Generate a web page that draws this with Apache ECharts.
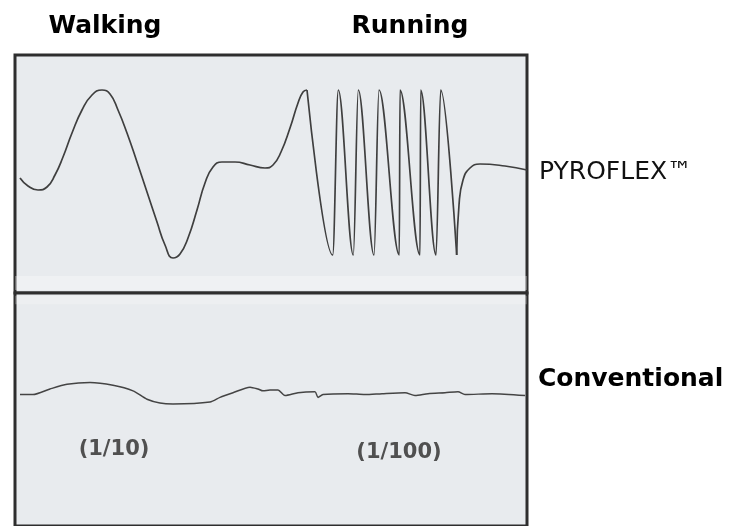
<!DOCTYPE html>
<html>
<head>
<meta charset="utf-8">
<script src="https://cdn.jsdelivr.net/npm/echarts@6/dist/echarts.min.js"></script>
<style>html,body{margin:0;padding:0;background:#fff;}#c{width:735px;height:526px;}</style>
</head>
<body>
<div id="c"></div>
<script>
// Time axis (arbitrary units) and signal amplitude
// PYROFLEX: walking segment (slow wave)
const pyroWalkTime   = [5, 13, 23, 32, 40, 48, 57, 67, 77, 87, 95, 103, 112, 122, 132, 142, 150, 158, 165, 173, 182, 190, 198, 207, 220, 235, 250, 258, 266, 275, 283, 288, 292];
const pyroWalkSignal = [-8, -16, -20, -17, -5, 13, 37, 60, 75, 80, 76, 60, 37, 8, -22, -52, -75, -88, -84, -68, -40, -13, 3, 8, 8, 5, 2, 5, 18, 42, 67, 78, 80];
// PYROFLEX: running segment (fast oscillation)
const pyroRunTime   = [292, 317.7, 323.3, 338.3, 343.3, 359, 364, 384.3, 385, 405, 405.7, 421, 425.7, 441.7];
const pyroRunSignal = [80, -85, 80, -85, 80, -85, 80, -85, 80, -85, 80, -85, 80, -85];
// PYROFLEX: settling tail
const pyroTailTime   = [441.7, 444, 448, 455, 465, 490, 512];
const pyroTailSignal = [-85, -35, -10, 2, 6, 4, 0];

// Conventional sensor response
const convTime   = [5, 18, 35, 52, 75, 98, 118, 132, 145, 158, 195, 205, 218, 235, 243, 248, 255, 263, 270, 283, 300, 303, 308, 333, 350, 367, 390, 400, 413, 430, 443, 450, 477, 510];
const convSignal = [0, 0, 6, 11, 13, 10, 4, -5, -9, -10, -8, -3, 2, 8, 6, 4, 5, 5, -1, 2, 3, -3, 0, 1, 0, 1, 2, -1, 1, 2, 3, 0, 1, -1];

const labelsTop = ["Walking", "Running"];
const labelsRight = ["PYROFLEX™", "Conventional"];
const scaleLabels = ["(1/10)", "(1/100)"];

const zip = (t, s) => t.map((v, i) => [v, s[i]]);

const chart = echarts.init(document.getElementById('c'), null, {renderer: 'canvas'});
const lineStyle = {color: '#3f3f3f', width: 1.7};
const bg = '#e8ebee';
const border = '#2e2e2e';

chart.setOption({
  animation: false,
  backgroundColor: '#fff',
  grid: [
    {left: 15, top: 55, width: 512, height: 238, show: true, backgroundColor: bg, borderColor: border, borderWidth: 3},
    {left: 15, top: 293, width: 512, height: 250, show: true, backgroundColor: bg, borderColor: border, borderWidth: 3}
  ],
  xAxis: [
    {type: 'value', gridIndex: 0, min: 0, max: 512, show: false},
    {type: 'value', gridIndex: 1, min: 0, max: 512, show: false}
  ],
  yAxis: [
    {type: 'value', gridIndex: 0, min: -123, max: 115, show: false},
    {type: 'value', gridIndex: 1, min: -141, max: 109, show: false}
  ],
  series: [
    {
      type: 'line', xAxisIndex: 0, yAxisIndex: 0, symbol: 'none', smooth: 0.5,
      lineStyle: lineStyle, data: zip(pyroWalkTime, pyroWalkSignal),
      markArea: {silent: true, itemStyle: {color: 'rgba(255,255,255,0.3)'}, data: [[{yAxis: -120}, {yAxis: -106}]]}
    },
    {
      type: 'line', xAxisIndex: 0, yAxisIndex: 0, symbol: 'none', smooth: 0.35, smoothMonotone: 'x',
      lineStyle: lineStyle, data: zip(pyroRunTime, pyroRunSignal)
    },
    {
      type: 'line', xAxisIndex: 0, yAxisIndex: 0, symbol: 'none', smooth: 0.5,
      lineStyle: lineStyle, data: zip(pyroTailTime, pyroTailSignal)
    },
    {
      type: 'line', xAxisIndex: 1, yAxisIndex: 1, symbol: 'none', smooth: 0.25,
      lineStyle: {color: '#444', width: 1.5}, data: zip(convTime, convSignal),
      markArea: {silent: true, itemStyle: {color: 'rgba(255,255,255,0.22)'}, data: [[{yAxis: 106}, {yAxis: 97}]]}
    }
  ],
  graphic: [
    {type: 'text', x: 105, y: 26, style: {text: labelsTop[0], font: 'bold 25px "DejaVu Sans"', fill: '#000', textAlign: 'center', textVerticalAlign: 'middle'}},
    {type: 'text', x: 410, y: 26, style: {text: labelsTop[1], font: 'bold 25px "DejaVu Sans"', fill: '#000', textAlign: 'center', textVerticalAlign: 'middle'}},
    {type: 'text', x: 539, y: 172.5, style: {text: labelsRight[0], font: '25px "DejaVu Sans"', fill: '#111', textAlign: 'left', textVerticalAlign: 'middle'}},
    {type: 'text', x: 538, y: 379.5, style: {text: labelsRight[1], font: 'bold 25px "DejaVu Sans"', fill: '#000', textAlign: 'left', textVerticalAlign: 'middle'}},
    {type: 'text', x: 114, y: 450, style: {text: scaleLabels[0], font: 'bold 21px "DejaVu Sans"', fill: '#505050', textAlign: 'center', textVerticalAlign: 'middle'}},
    {type: 'text', x: 399, y: 453, style: {text: scaleLabels[1], font: 'bold 21px "DejaVu Sans"', fill: '#505050', textAlign: 'center', textVerticalAlign: 'middle'}}
  ]
});
</script>
</body>
</html>
